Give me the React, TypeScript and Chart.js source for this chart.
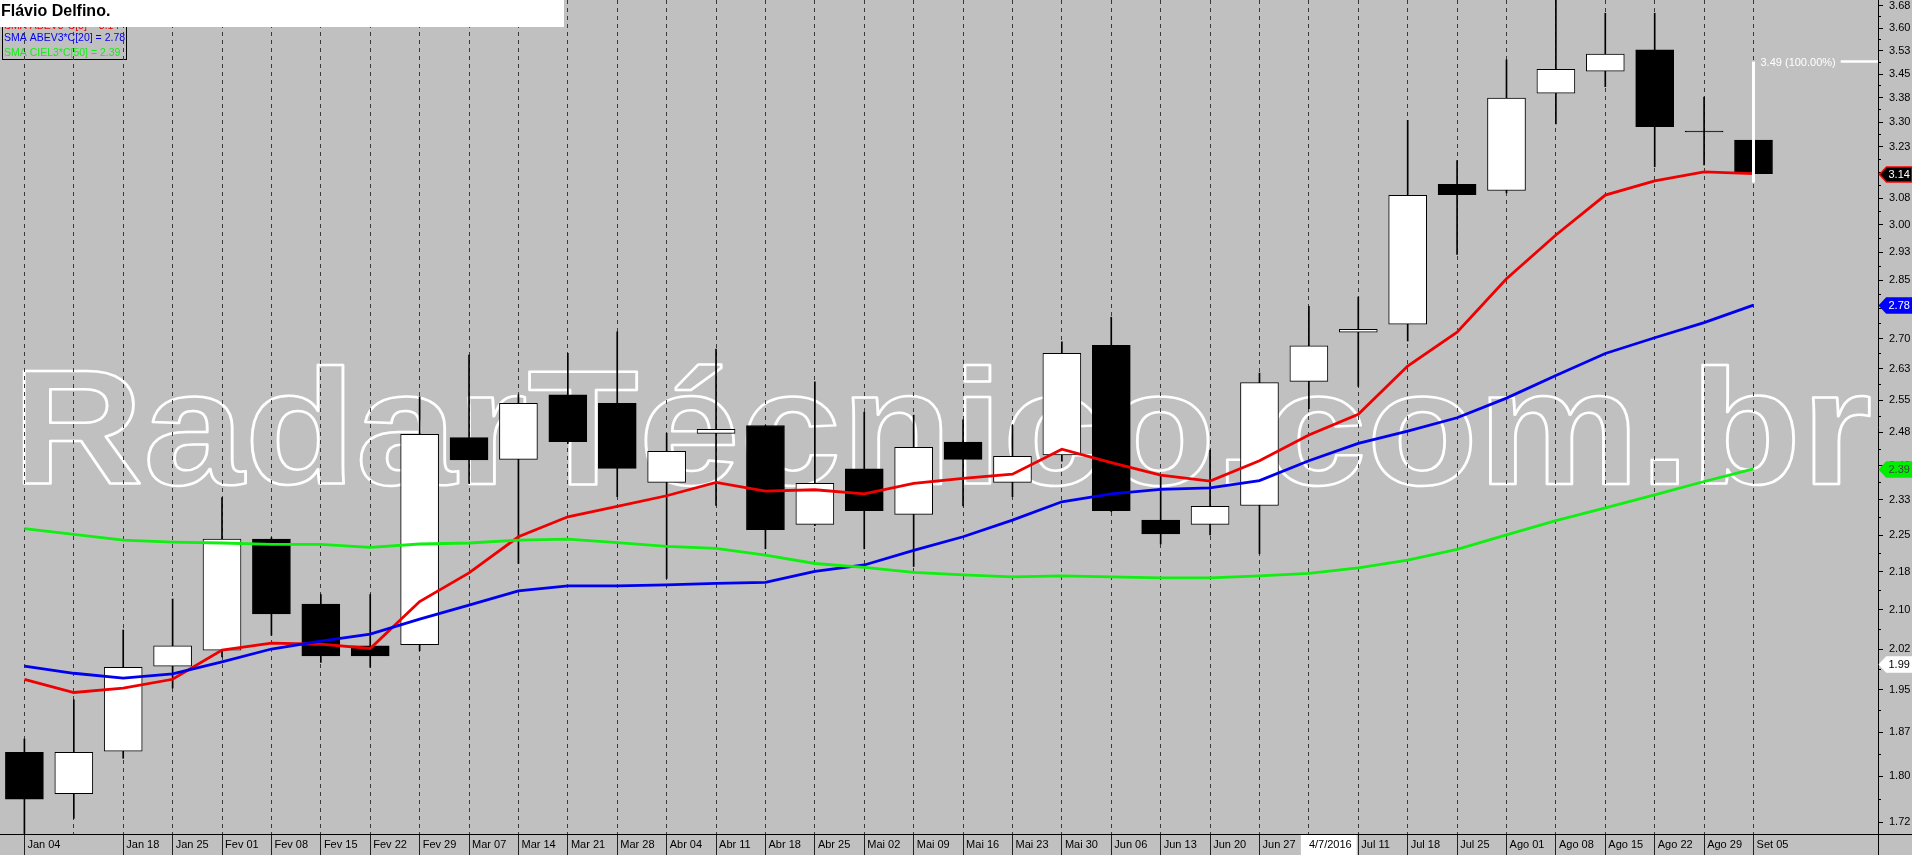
import { useEffect, useRef } from 'react';
import { Chart, registerables } from 'chart.js';

Chart.register(...registerables);

const FONT = "'Liberation Sans', Arial, sans-serif";
const BG = '#c0c0c0';

const xLabels = [
  'Jan 04', '', 'Jan 18', 'Jan 25', 'Fev 01', 'Fev 08', 'Fev 15', 'Fev 22', 'Fev 29',
  'Mar 07', 'Mar 14', 'Mar 21', 'Mar 28', 'Abr 04', 'Abr 11', 'Abr 18', 'Abr 25',
  'Mai 02', 'Mai 09', 'Mai 16', 'Mai 23', 'Mai 30', 'Jun 06', 'Jun 13', 'Jun 20', 'Jun 27',
  '4/7/2016', 'Jul 11', 'Jul 18', 'Jul 25', 'Ago 01', 'Ago 08', 'Ago 15', 'Ago 22', 'Ago 29', 'Set 05',
];
const highlightedLabelIndex = 26;

const opens = [
  1.840, 1.771, 1.842, 1.993, 2.023, 2.242, 2.111, 2.031, 2.033, 2.463, 2.414, 2.563,
  2.543, 2.363, 2.473, 2.491, 2.273, 2.393, 2.294, 2.453, 2.363, 2.424, 2.683, 2.282,
  2.273, 2.313, 2.595, 2.716, 2.736, 3.115, 3.097, 3.389, 3.459, 3.528, 3.272, 3.245,
];
const highs = [
  1.863, 1.932, 2.061, 2.121, 2.330, 2.245, 2.130, 2.130, 2.558, 2.659, 2.563, 2.663,
  2.717, 2.473, 2.674, 2.491, 2.594, 2.522, 2.515, 2.504, 2.492, 2.692, 2.754, 2.380,
  2.435, 2.615, 2.782, 2.806, 3.305, 3.184, 3.496, 3.700, 3.650, 3.650, 3.377, 3.250,
];
const lows = [
  1.690, 1.731, 1.830, 1.953, 2.010, 2.051, 2.000, 1.991, 2.022, 2.361, 2.192, 2.450,
  2.332, 2.162, 2.313, 2.222, 2.270, 2.222, 2.186, 2.312, 2.332, 2.410, 2.300, 2.232,
  2.251, 2.212, 2.530, 2.583, 2.694, 2.919, 3.090, 3.294, 3.410, 3.166, 3.171, 3.140,
];
const closes = [
  1.762, 1.840, 1.991, 2.031, 2.242, 2.092, 2.012, 2.012, 2.471, 2.413, 2.543, 2.454,
  2.394, 2.432, 2.482, 2.262, 2.361, 2.302, 2.441, 2.414, 2.421, 2.663, 2.302, 2.253,
  2.311, 2.592, 2.682, 2.723, 3.083, 3.085, 3.374, 3.465, 3.514, 3.286, 3.270, 3.146,
];

const smaRed = [
  1.969, 1.945, 1.953, 1.969, 2.023, 2.036, 2.034, 2.026, 2.116, 2.173, 2.247, 2.289,
  2.311, 2.334, 2.363, 2.344, 2.347, 2.338, 2.361, 2.372, 2.381, 2.437, 2.407, 2.379,
  2.366, 2.411, 2.469, 2.517, 2.632, 2.716, 2.854, 2.972, 3.084, 3.125, 3.151, 3.146,
];
const smaBlue = [
  1.993, 1.980, 1.971, 1.979, 2.001, 2.025, 2.040, 2.053, 2.082, 2.109, 2.137, 2.147,
  2.147, 2.149, 2.152, 2.154, 2.176, 2.189, 2.219, 2.247, 2.282, 2.321, 2.338, 2.348,
  2.351, 2.367, 2.411, 2.450, 2.478, 2.509, 2.555, 2.609, 2.663, 2.702, 2.740, 2.785,
];
const smaGreen = [
  2.264, 2.252, 2.240, 2.236, 2.234, 2.231, 2.231, 2.225, 2.232, 2.234, 2.240, 2.242,
  2.235, 2.227, 2.223, 2.209, 2.192, 2.184, 2.174, 2.169, 2.165, 2.167, 2.165, 2.163,
  2.163, 2.167, 2.172, 2.183, 2.199, 2.221, 2.251, 2.281, 2.308, 2.336, 2.365, 2.393,
];

const yTickValues = [
  1.725, 1.8, 1.875, 1.95, 2.025, 2.1, 2.175, 2.25, 2.325, 2.4, 2.475, 2.55, 2.625, 2.7,
  2.775, 2.85, 2.925, 3.0, 3.075, 3.15, 3.225, 3.3, 3.375, 3.45, 3.525, 3.6, 3.675,
];
const yTickLabels = [
  '1.72', '1.80', '1.87', '1.95', '2.02', '2.10', '2.18', '2.25', '2.33', '2.40', '2.48', '2.55', '2.63', '2.70',
  '2.78', '2.85', '2.93', '3.00', '3.08', '3.15', '3.23', '3.30', '3.38', '3.45', '3.53', '3.60', '3.68',
];
const yMin = 1.706;
const yMax = 3.695;

const markerValues = [3.145, 2.785, 2.393, 1.997];
const markerLabels = ['3.14', '2.78', '2.39', '1.99'];
const markerFills = ['#000000', '#0000ff', '#00ee00', '#ffffff'];
const markerTextColors = ['#ffffff', '#ffffff', '#404040', '#000000'];
const markerBorders = ['#ff0000', '#0000ff', '#00ee00', '#ffffff'];

const legendLines = ['SMA ABEV3*C[5] = 3.14', 'SMA ABEV3*C[20] = 2.78', 'SMA CIEL3*C[50] = 2.39'];
const seriesColors = ['#ee0000', '#0000ee', '#11ee11'];

const annotationHigh = 3.49;
const annotationLow = 3.12;
const annotationText = '3.49 (100.00%)';
const titleText = 'Flávio Delfino.';
const watermarkText = 'RadarTécnico.com.br';

type YT = { v: number; label: string; major: boolean };
const yTicks: YT[] = [];
yTickValues.forEach((v, i) => {
  yTicks.push({ v, label: yTickLabels[i], major: true });
  if (i < yTickValues.length - 1) {
    yTicks.push({ v: Math.sqrt(v * yTickValues[i + 1]), label: '', major: false });
  }
});

const backgroundPlugin = {
  id: 'bgWatermark',
  beforeDraw(chart: any) {
    const ctx = chart.ctx as CanvasRenderingContext2D;
    ctx.save();
    ctx.fillStyle = BG;
    ctx.fillRect(0, 0, chart.width, chart.height);
    // watermark
    ctx.font = `bold 163px ${FONT}`;
    const w = ctx.measureText(watermarkText).width;
    ctx.translate(12, 484);
    ctx.scale(1860 / w, 1);
    ctx.strokeStyle = '#ffffff';
    ctx.lineWidth = 2.5;
    ctx.lineJoin = 'round';
    ctx.textBaseline = 'alphabetic';
    ctx.strokeText(watermarkText, 0, 0);
    ctx.restore();

    // legend box
    ctx.save();
    ctx.strokeStyle = '#000';
    ctx.lineWidth = 1;
    ctx.strokeRect(2.5, -2, 124, 61.5);
    ctx.font = `10.5px ${FONT}`;
    ctx.textBaseline = 'alphabetic';
    ctx.textAlign = 'left';
    const baselines = [29, 41, 56];
    legendLines.forEach((t, i) => {
      ctx.fillStyle = seriesColors[i];
      ctx.fillText(t, 4, baselines[i]);
    });
    ctx.restore();
  },
};

const overlayPlugin = {
  id: 'overlay',
  afterDatasetsDraw(chart: any) {
    const ctx = chart.ctx as CanvasRenderingContext2D;
    const xs = chart.scales.x;
    const ys = chart.scales.y;
    const area = chart.chartArea;
    const px = xs.getPixelForValue(opens.length - 1);
    const yH = ys.getPixelForValue(annotationHigh);
    const yL = ys.getPixelForValue(annotationLow);
    ctx.save();
    ctx.strokeStyle = '#ffffff';
    ctx.lineWidth = 3;
    ctx.beginPath();
    ctx.moveTo(px, yH);
    ctx.lineTo(px, yL);
    ctx.stroke();
    ctx.font = `11px ${FONT}`;
    ctx.fillStyle = '#ffffff';
    ctx.textBaseline = 'middle';
    ctx.textAlign = 'left';
    ctx.fillText(annotationText, px + 7, yH + 1);
    const tw = ctx.measureText(annotationText).width;
    ctx.lineWidth = 2.5;
    ctx.beginPath();
    ctx.moveTo(px + 7 + tw + 5, yH);
    ctx.lineTo(area.right, yH);
    ctx.stroke();
    ctx.restore();
  },
  afterDraw(chart: any) {
    const ctx = chart.ctx as CanvasRenderingContext2D;
    const ys = chart.scales.y;
    const area = chart.chartArea;
    ctx.save();
    // axis lines
    ctx.strokeStyle = '#000';
    ctx.lineWidth = 1;
    ctx.beginPath();
    ctx.moveTo(0, Math.round(area.bottom) + 0.5);
    ctx.lineTo(chart.width, Math.round(area.bottom) + 0.5);
    ctx.moveTo(Math.round(area.right) + 0.5, 0);
    ctx.lineTo(Math.round(area.right) + 0.5, chart.height);
    ctx.stroke();

    // value markers
    ctx.font = `11px ${FONT}`;
    ctx.textBaseline = 'middle';
    ctx.textAlign = 'left';
    markerValues.forEach((v, i) => {
      const yc = Math.round(ys.getPixelForValue(v)) + 0.5;
      const x0 = area.right + 1.5;
      ctx.beginPath();
      ctx.moveTo(x0, yc);
      ctx.lineTo(x0 + 7, yc - 7.5);
      ctx.lineTo(chart.width, yc - 7.5);
      ctx.lineTo(chart.width, yc + 7.5);
      ctx.lineTo(x0 + 7, yc + 7.5);
      ctx.closePath();
      ctx.fillStyle = markerFills[i];
      ctx.fill();
      ctx.strokeStyle = markerBorders[i];
      ctx.lineWidth = 1.5;
      ctx.stroke();
      ctx.fillStyle = markerTextColors[i];
      ctx.fillText(markerLabels[i], x0 + 9, yc + 0.5);
    });

    // title box
    ctx.fillStyle = '#ffffff';
    ctx.fillRect(0, 0, 564, 27);
    ctx.fillStyle = '#000';
    ctx.font = `bold 16px ${FONT}`;
    ctx.textBaseline = 'alphabetic';
    ctx.fillText(titleText, 1, 16);
    ctx.restore();
  },
};

export default function App() {
  const ref = useRef<HTMLCanvasElement | null>(null);
  useEffect(() => {
    document.body.style.margin = '0';
    document.body.style.overflow = 'hidden';
    const canvas = ref.current!;
    const idx = opens.map((_, i) => i);
    const chart = new Chart(canvas, {
      type: 'bar',
      data: {
        datasets: [
          {
            type: 'line',
            data: idx.map((i) => ({ x: i, y: smaGreen[i] })),
            borderColor: seriesColors[2],
            borderWidth: 2.8,
            pointRadius: 0,
            tension: 0,
            order: 0,
          } as any,
          {
            type: 'line',
            data: idx.map((i) => ({ x: i, y: smaBlue[i] })),
            borderColor: seriesColors[1],
            borderWidth: 2.8,
            pointRadius: 0,
            tension: 0,
            order: 0,
          } as any,
          {
            type: 'line',
            data: idx.map((i) => ({ x: i, y: smaRed[i] })),
            borderColor: seriesColors[0],
            borderWidth: 2.8,
            pointRadius: 0,
            tension: 0,
            order: 0,
          } as any,
          {
            type: 'bar',
            data: idx.map((i) => ({ x: i, y: [opens[i], closes[i]] })),
            backgroundColor: idx.map((i) => (closes[i] >= opens[i] ? '#ffffff' : '#000000')),
            borderColor: '#000000',
            borderWidth: 1,
            borderSkipped: false,
            barThickness: 38,
            grouped: false,
            clip: 0,
            order: 1,
          } as any,
          {
            type: 'bar',
            data: idx.map((i) => ({ x: i, y: [lows[i], highs[i]] })),
            backgroundColor: '#000000',
            borderWidth: 0,
            barThickness: 1,
            grouped: false,
            clip: 0,
            order: 2,
          } as any,
        ],
      },
      plugins: [backgroundPlugin, overlayPlugin],
      options: {
        responsive: false,
        animation: false,
        devicePixelRatio: 1,
        events: [],
        layout: { padding: 0 },
        plugins: { legend: { display: false }, tooltip: { enabled: false } },
        scales: {
          x: {
            type: 'linear',
            position: 'bottom',
            min: -0.494,
            max: 37.52,
            bounds: 'data',
            offset: false,
            grid: {
              offset: false,
              color: '#3a3a3a',
              lineWidth: 1,
              drawOnChartArea: true,
              drawTicks: true,
              tickLength: 21,
              tickWidth: 1,
              tickBorderDash: [],
              tickColor: (c: any) => (xLabels[c.index] ? '#202020' : 'rgba(0,0,0,0)'),
            },
            border: { display: false, dash: [4, 4] },
            afterBuildTicks: (scale: any) => {
              scale.ticks = xLabels.map((_, i) => ({ value: i }));
            },
            afterFit: (scale: any) => {
              scale.height = 21;
              scale.paddingLeft = 0;
              scale.paddingRight = 0;
            },
            ticks: {
              autoSkip: false,
              maxRotation: 0,
              minRotation: 0,
              align: 'start',
              padding: -17,
              color: '#000000',
              font: { family: FONT, size: 11 },
              callback: (_v: any, i: number) =>
                i === highlightedLabelIndex ? xLabels[i] : ' ' + xLabels[i],
              showLabelBackdrop: (c: any) => c.index === highlightedLabelIndex,
              backdropColor: '#ffffff',
              backdropPadding: { top: 3, bottom: 4, left: 8, right: 5 },
            },
          } as any,
          y: {
            type: 'logarithmic',
            position: 'right',
            min: yMin,
            max: yMax,
            bounds: 'data',
            grid: {
              drawOnChartArea: false,
              drawTicks: true,
              tickLength: 5,
              tickWidth: 1,
              tickColor: '#000000',
              tickBorderDash: (c: any) => (yTicks[c.index] && !yTicks[c.index].major ? [3, 30] : []),
            },
            border: { display: false },
            afterBuildTicks: (scale: any) => {
              scale.ticks = yTicks.map((t) => ({ value: t.v }));
            },
            afterFit: (scale: any) => {
              scale.width = 34;
              scale.paddingTop = 0;
              scale.paddingBottom = 0;
            },
            ticks: {
              autoSkip: false,
              padding: 6,
              color: '#000000',
              font: { family: FONT, size: 11 },
              callback: (_v: any, i: number) => (yTicks[i] ? yTicks[i].label : ''),
            },
          } as any,
        },
      } as any,
    });
    return () => chart.destroy();
  }, []);
  return (
    <canvas
      ref={ref}
      width={1912}
      height={855}
      style={{ display: 'block', width: 1912, height: 855 }}
    />
  );
}
